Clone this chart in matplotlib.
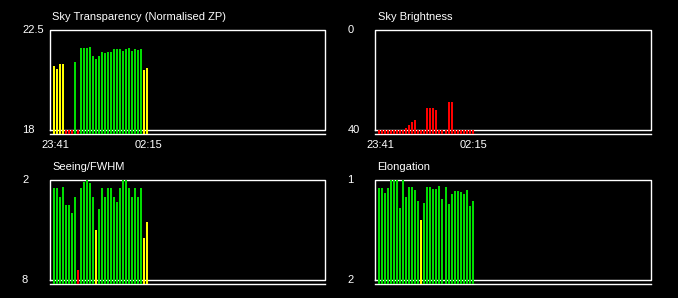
import matplotlib
matplotlib.use("Agg")
import matplotlib.pyplot as plt
from matplotlib.transforms import blended_transform_factory

plt.rcParams['font.family'] = ['Liberation Sans', 'DejaVu Sans']

# bar colour codes: g = good, y = marginal, r = bad
COLOURS = {'g': '#00dd00', 'y': '#ffff00', 'r': '#ff0000'}

time_labels = ['23:41', '02:15']

transparency = [20.88, 20.75, 20.97, 20.97, 18.0, 18.0, 18.0, 21.06,
                18.0, 21.68, 21.68, 21.68, 21.72, 21.33, 21.20, 21.33,
                21.51, 21.47, 21.51, 21.51, 21.63, 21.63, 21.63, 21.56,
                21.63, 21.68, 21.56, 21.63, 21.59, 21.63, 20.70, 20.79]
transparency_cols = ['y', 'y', 'y', 'y', 'r', 'r', 'r', 'g',
                     'r', 'g', 'g', 'g', 'g', 'g', 'g', 'g',
                     'g', 'g', 'g', 'g', 'g', 'g', 'g', 'g',
                     'g', 'g', 'g', 'g', 'g', 'g', 'y', 'y']

brightness = [40, 40, 40, 40, 40, 40, 40, 40,
              40, 39.2, 38.0, 36.8, 36.0, 40, 40, 40,
              31.2, 31.2, 31.2, 32.0, 40, 40, 40, 28.8,
              28.8, 40, 40, 40, 40, 40, 40, 40]
brightness_cols = ['r'] * 32

seeing = [2.46, 2.46, 3.00, 2.40, 3.48, 3.48, 3.96, 3.00,
          7.38, 2.46, 2.10, 1.90, 2.16, 3.00, 4.98, 3.72,
          2.46, 3.00, 2.46, 2.46, 3.00, 3.30, 2.46, 1.90,
          1.90, 2.46, 3.00, 2.46, 3.00, 2.46, 5.46, 4.50]
seeing_cols = ['g', 'g', 'g', 'g', 'g', 'g', 'g', 'g',
               'r', 'g', 'g', 'g', 'g', 'g', 'y', 'g',
               'g', 'g', 'g', 'g', 'g', 'g', 'g', 'g',
               'g', 'g', 'g', 'g', 'g', 'g', 'y', 'y']

elongation = [1.08, 1.08, 1.13, 1.08, 0.98, 0.98, 0.98, 1.28,
              0.98, 1.17, 1.07, 1.07, 1.10, 1.21, 1.40, 1.23,
              1.07, 1.07, 1.09, 1.09, 1.06, 1.19, 1.07, 1.24,
              1.14, 1.11, 1.11, 1.12, 1.14, 1.10, 1.26, 1.21]
elongation_cols = ['g', 'g', 'g', 'g', 'g', 'g', 'g', 'g',
                   'g', 'g', 'g', 'g', 'g', 'g', 'y', 'g',
                   'g', 'g', 'g', 'g', 'g', 'g', 'g', 'g',
                   'g', 'g', 'g', 'g', 'g', 'g', 'g', 'g']

W, H = 678, 298
fig = plt.figure(figsize=(W / 100, H / 100), dpi=100, facecolor='black')
FS = 8.0


def panel(left, top, title, values, cols, y_top, y_bot, xlabels=None):
    # axes spans box top to the baseline strip below the box
    ax = fig.add_axes([left / W, 1 - (top + 104) / H, 275 / W, 104 / H])
    ax.set_facecolor('black')
    for s in ax.spines.values():
        s.set_visible(False)
    x0, x1 = -4 / 3, 271 / 3
    base = y_bot + (y_bot - y_top) * 0.04
    ax.set_xlim(x0, x1)
    ax.set_ylim(base, y_top)

    idx = list(range(len(values)))
    ax.bar(idx, [v - base for v in values], bottom=base, width=2 / 3,
           color=[COLOURS[c] for c in cols], linewidth=0, zorder=3)

    ax.plot([x0, x1, x1, x0, x0], [y_bot, y_bot, y_top, y_top, y_bot],
            color='white', lw=1.0, clip_on=False, zorder=2)
    ax.plot([x0, x1], [base, base], color='white', lw=1.0,
            clip_on=False, zorder=2)

    ax.set_yticks([])
    if xlabels:
        ax.set_xticks([0.4, len(values) - 0.6])
        ax.set_xticklabels(xlabels, color='white', fontsize=FS)
        ax.tick_params(axis='x', length=0, pad=4.5)
    else:
        ax.set_xticks([])

    tr = blended_transform_factory(fig.transFigure, ax.transData)
    lab_x = (left - 28) / W
    for v in (y_top, y_bot):
        ax.text(lab_x, v, f'{v:g}', transform=tr, ha='left', va='center',
                color='white', fontsize=FS)
    fig.text((left + 2) / W, 1 - (top - 13) / H, title, ha='left',
             va='center', color='white', fontsize=FS)
    return ax


panel(50, 30, 'Sky Transparency (Normalised ZP)', transparency,
      transparency_cols, 22.5, 18, time_labels)
panel(375.5, 30, 'Sky Brightness', brightness, brightness_cols, 0, 40,
      time_labels)
panel(50, 180, 'Seeing/FWHM', seeing, seeing_cols, 2, 8)
panel(375.5, 180, 'Elongation', elongation, elongation_cols, 1, 2)

fig.savefig('out.png', dpi=100, facecolor='black')
